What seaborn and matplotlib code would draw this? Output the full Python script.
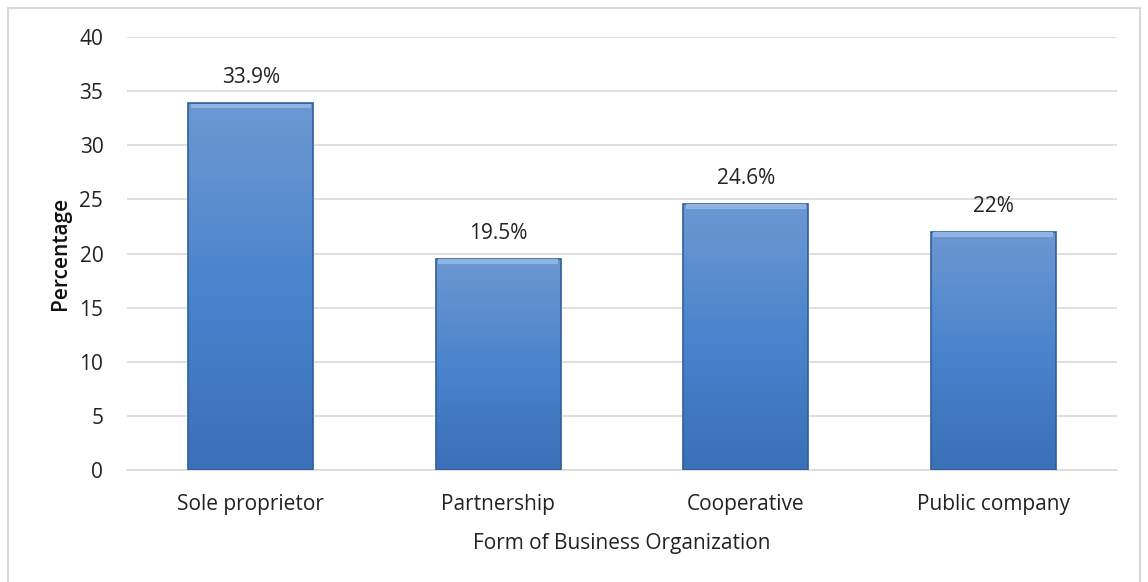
import matplotlib.pyplot as plt
import matplotlib.patches as mpatches
import seaborn as sns
import numpy as np
import pandas as pd

# Data
forms = ["Sole proprietor", "Partnership", "Cooperative", "Public company"]
percent = [33.9, 19.5, 24.6, 22.0]
labels = ["33.9%", "19.5%", "24.6%", "22%"]

df = pd.DataFrame({"form": forms, "percent": percent})

sns.set_theme(style="white")
plt.rcParams['font.family'] = ['Open Sans', 'DejaVu Sans']

fig = plt.figure(figsize=(11.48, 5.82), dpi=100)
ax = fig.add_axes([0.1106, 0.1924, 0.8624, 0.744])

sns.barplot(data=df, x="form", y="percent", color="#4f81bd",
            width=0.505, saturation=1, ax=ax, zorder=3)

# gradient fill clipped to each bar (Excel-style shading)
grad = np.linspace(0, 1, 256).reshape(-1, 1)
cmap = plt.matplotlib.colors.LinearSegmentedColormap.from_list(
    "bar", ["#3a70b8", "#4a84cc", "#6d98d2"])
for p in ax.patches:
    x0, y0 = p.get_x(), p.get_y()
    w, h = p.get_width(), p.get_height()
    im = ax.imshow(grad, cmap=cmap, aspect="auto", origin="lower",
                   extent=[x0, x0 + w, y0, y0 + h], zorder=4)
    im.set_clip_path(p)
    ax.add_patch(mpatches.Rectangle((x0, y0), w, h, fill=False,
                                    edgecolor="#2f5f9a", lw=1.2, zorder=5))
    ax.add_patch(mpatches.Rectangle((x0 + 0.01, y0 + h - 0.45), w - 0.02, 0.4,
                                    facecolor="#8fb3e3", edgecolor="none",
                                    zorder=5))

for i, (v, t) in enumerate(zip(percent, labels)):
    ax.text(i, v + 1.4, t, ha="center", va="bottom", fontsize=15,
            color="#222222")

ax.set_ylim(0, 40)
ax.set_xlim(-0.5, 3.5)
ax.set_yticks(range(0, 41, 5))
ax.yaxis.grid(True, color="#d9d9d9", lw=1.2, zorder=0)
ax.set_axisbelow(True)
for s in ["top", "right", "left"]:
    ax.spines[s].set_visible(False)
ax.spines["bottom"].set_color("#d9d9d9")
ax.spines["bottom"].set_linewidth(1.2)
ax.tick_params(axis="both", length=0, labelsize=15, colors="#222222")
ax.tick_params(axis="y", pad=17)
ax.tick_params(axis="x", pad=17)

ax.set_xlabel("Form of Business Organization", fontsize=15, color="#222222",
              labelpad=13)
ax.set_ylabel("Percentage", fontsize=15, color="#111111",
              fontweight="semibold", labelpad=6)

# chart border
fig.patches.append(mpatches.Rectangle((0.007, -0.01), 0.986, 0.997,
                                      transform=fig.transFigure, fill=False,
                                      edgecolor="#d9d9d9", lw=1.5))

plt.savefig("out.png", dpi=100)
